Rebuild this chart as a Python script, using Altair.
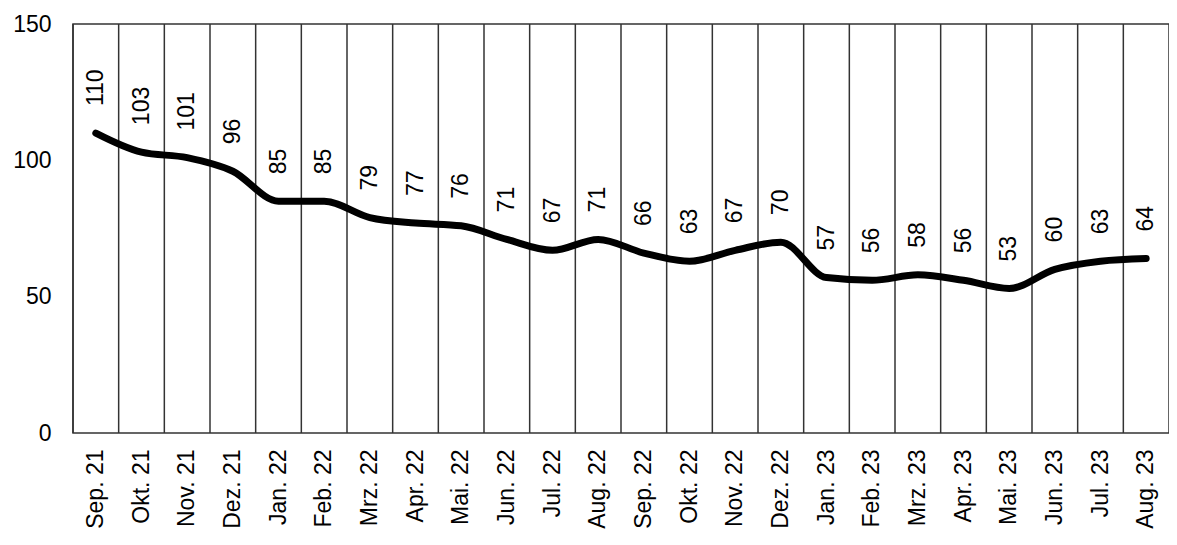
import altair as alt
import pandas as pd

months = ["Sep. 21", "Okt. 21", "Nov. 21", "Dez. 21", "Jan. 22", "Feb. 22", "Mrz. 22",
          "Apr. 22", "Mai. 22", "Jun. 22", "Jul. 22", "Aug. 22", "Sep. 22", "Okt. 22",
          "Nov. 22", "Dez. 22", "Jan. 23", "Feb. 23", "Mrz. 23", "Apr. 23", "Mai. 23",
          "Jun. 23", "Jul. 23", "Aug. 23"]
values = [110, 103, 101, 96, 85, 85, 79, 77, 76, 71, 67, 71, 66, 63, 67, 70,
          57, 56, 58, 56, 53, 60, 63, 64]

df = pd.DataFrame({"month": months, "value": values})

FONT = "Liberation Sans"
FS = 23

xscale = alt.Scale(type="band", paddingInner=0, paddingOuter=0, domain=months)
yscale = alt.Scale(domain=[0, 150], nice=False)

base = alt.Chart(df)

grid = base.mark_rule(color="#333333", strokeWidth=1.5).encode(
    x=alt.X("month:N", scale=xscale, sort=None, bandPosition=0,
            axis=alt.Axis(title=None, labelAngle=-90, labelFontSize=FS, labelFont=FONT,
                          labelColor="black", ticks=False, domain=False, grid=False,
                          labelPadding=16, labelAlign="right", labelBaseline="middle")),
)

line = base.mark_line(color="black", strokeWidth=7, interpolate="monotone",
                      strokeCap="round").encode(
    x=alt.X("month:N", scale=xscale, sort=None, bandPosition=0.5),
    y=alt.Y("value:Q", scale=yscale,
            axis=alt.Axis(title=None, values=[0, 50, 100, 150], labelFontSize=FS,
                          labelFont=FONT, labelColor="black", ticks=False,
                          domain=False, grid=False, labelPadding=22)),
)

labels = base.mark_text(angle=270, align="left", baseline="middle", dx=27,
                        fontSize=FS, font=FONT, color="black").encode(
    x=alt.X("month:N", scale=xscale, sort=None, bandPosition=0.5),
    y=alt.Y("value:Q", scale=yscale),
    text=alt.Text("value:Q"),
)

chart = alt.layer(grid, line, labels).properties(
    width=1096, height=409,
    autosize=alt.AutoSizeParams(type="none"),
    padding={"left": 65, "top": 16, "right": 0, "bottom": 98},
    background="white",
).configure_view(stroke="#333333", strokeWidth=1.5)

chart.save("out.html", embed_options={"renderer": "svg", "actions": False})
